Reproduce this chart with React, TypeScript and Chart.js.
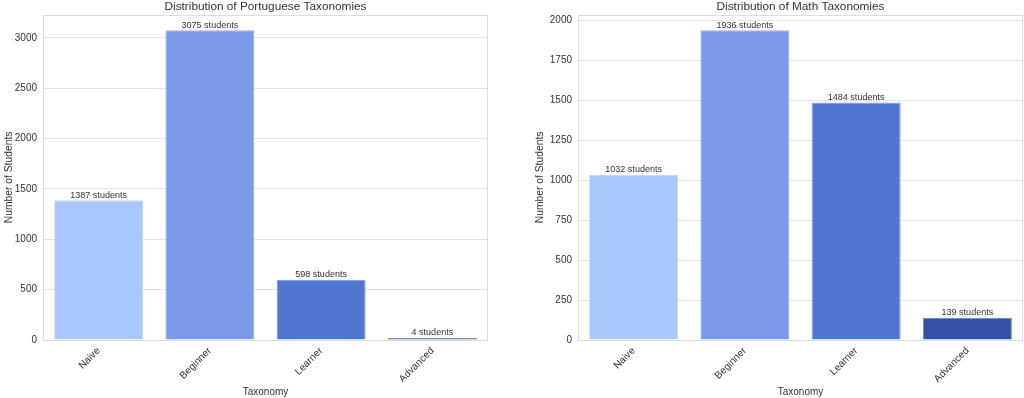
import React, { useEffect, useRef } from "react";
import { Chart, registerables } from "chart.js";

Chart.register(...registerables);

const categories = ["Naive", "Beginner", "Learner", "Advanced"];
const portugueseCounts = [1387, 3075, 598, 4];
const mathCounts = [1032, 1936, 1484, 139];
const barColors = ["#a9c7fd", "#7a99e6", "#5077d0", "#3352a6"];
const edgeColors = ["#c2d7fd", "#98b0ee", "#7c97dc", "#6f86c2"];
const portugueseTicks = [0, 500, 1000, 1500, 2000, 2500, 3000];
const mathTicks = [0, 250, 500, 750, 1000, 1250, 1500, 1750, 2000];

const FONT = "'Liberation Sans', Arial, sans-serif";
const TEXT = "#333333";
const TITLE_SIZE = 11.8;

const barLabelPlugin = {
  id: "barLabels",
  afterDatasetsDraw(chart: any) {
    const ctx = chart.ctx;
    const meta = chart.getDatasetMeta(0);
    const data = chart.data.datasets[0].data;
    ctx.save();
    ctx.font = `9px ${FONT}`;
    ctx.fillStyle = TEXT;
    ctx.textAlign = "center";
    ctx.textBaseline = "bottom";
    meta.data.forEach((bar: any, i: number) => {
      ctx.fillText(`${data[i]} students`, bar.x, bar.y - 0.5);
    });
    ctx.restore();
  },
};

const framePlugin = {
  id: "frame",
  afterDraw(chart: any) {
    const { ctx, chartArea } = chart;
    ctx.save();
    ctx.strokeStyle = "#dcdcdc";
    ctx.lineWidth = 1;
    ctx.strokeRect(
      Math.round(chartArea.left) + 0.5,
      Math.round(chartArea.top) + 0.5,
      Math.round(chartArea.right - chartArea.left) - 1,
      Math.round(chartArea.bottom - chartArea.top)
    );
    // title centred over the plot area
    const t = chart.titleBlock;
    if (t) {
      ctx.font = `${TITLE_SIZE}px ${FONT}`;
      ctx.fillStyle = TEXT;
      ctx.textAlign = "center";
      ctx.textBaseline = "middle";
      const y = t.top + 1 + TITLE_SIZE / 2;
      ctx.fillText(chart.options.plugins.title.text, (chartArea.left + chartArea.right) / 2, y);
    }
    ctx.restore();
  },
};

function TaxonomyChart(props: {
  title: string;
  values: number[];
  ticks: number[];
  yWidth: number;
  padLeft: number;
  padRight: number;
}) {
  const ref = useRef<HTMLCanvasElement | null>(null);
  useEffect(() => {
    if (!ref.current) return;
    const maxVal = Math.max(...props.values) * 1.05;
    const tickSet = props.ticks;
    const chart = new Chart(ref.current, {
      type: "bar",
      data: {
        labels: categories,
        datasets: [
          {
            data: props.values,
            backgroundColor: barColors,
            borderColor: edgeColors,
            borderWidth: 1,
            minBarLength: 2,
            categoryPercentage: 1,
            barPercentage: 0.8,
          },
        ],
      },
      options: {
        animation: false,
        responsive: true,
        maintainAspectRatio: false,
        layout: { padding: { left: props.padLeft, right: props.padRight, top: 0, bottom: 0 } },
        plugins: {
          legend: { display: false },
          tooltip: { enabled: false },
          title: {
            display: true,
            text: props.title,
            color: "rgba(0,0,0,0)",
            font: { family: FONT, size: TITLE_SIZE, weight: "normal", lineHeight: 1 },
            padding: { top: 1, bottom: 2 },
          },
        },
        scales: {
          x: {
            offset: true,
            grid: { display: false, drawTicks: false },
            border: { display: false },
            ticks: {
              color: TEXT,
              font: { family: FONT, size: 10 },
              minRotation: 45,
              maxRotation: 45,
              padding: 5,
            },
            title: {
              display: true,
              text: "Taxonomy",
              color: TEXT,
              font: { family: FONT, size: 10 },
              padding: { top: 0, bottom: 0 },
            },
            afterFit(scale: any) {
              scale.height = 58;
            },
          },
          y: {
            min: 0,
            max: maxVal,
            grid: { color: "#e3e3e3", lineWidth: 1, drawTicks: false },
            border: { display: false },
            ticks: {
              color: TEXT,
              font: { family: FONT, size: 10 },
              padding: 6,
              stepSize: tickSet[1] - tickSet[0],
              callback: (v: any) => String(v),
            },
            afterBuildTicks(scale: any) {
              scale.ticks = tickSet.map((v) => ({ value: v }));
            },
            title: {
              display: true,
              text: "Number of Students",
              color: TEXT,
              font: { family: FONT, size: 10.3 },
              padding: { top: 0, bottom: 0 },
            },
            afterFit(scale: any) {
              scale.width = props.yWidth;
            },
          },
        },
      },
      plugins: [barLabelPlugin, framePlugin],
    } as any);
    return () => chart.destroy();
  }, []);
  return <canvas ref={ref} />;
}

export default function App() {
  return (
    <div
      style={{
        position: "fixed",
        left: 0,
        top: 0,
        width: 1024,
        height: 398,
        background: "#ffffff",
      }}
    >
      <div style={{ position: "absolute", left: 0, top: 0, width: 500, height: 398 }}>
        <TaxonomyChart
          title="Distribution of Portuguese Taxonomies"
          values={portugueseCounts}
          ticks={portugueseTicks}
          yWidth={40}
          padLeft={3}
          padRight={12}
        />
      </div>
      <div style={{ position: "absolute", left: 512, top: 0, width: 512, height: 398 }}>
        <TaxonomyChart
          title="Distribution of Math Taxonomies"
          values={mathCounts}
          ticks={mathTicks}
          yWidth={44}
          padLeft={22}
          padRight={1}
        />
      </div>
    </div>
  );
}
